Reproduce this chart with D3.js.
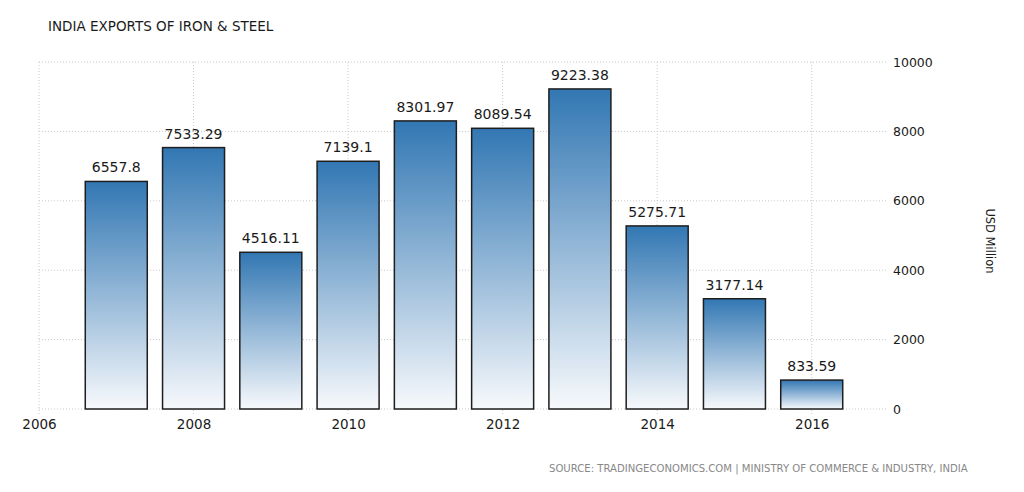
<!DOCTYPE html>
<html>
<head>
<meta charset="utf-8">
<script src="https://cdn.jsdelivr.net/npm/d3@7"></script>
<style>
  body { margin: 0; background: #fff; }
  text { font-family: "DejaVu Sans", sans-serif; }
</style>
</head>
<body>
<script>
// Données du graphique
const years = [2007, 2008, 2009, 2010, 2011, 2012, 2013, 2014, 2015, 2016];
const values = [6557.8, 7533.29, 4516.11, 7139.1, 8301.97, 8089.54, 9223.38, 5275.71, 3177.14, 833.59];
const labels = ["6557.8", "7533.29", "4516.11", "7139.1", "8301.97", "8089.54", "9223.38", "5275.71", "3177.14", "833.59"];
const xTicks = [2006, 2008, 2010, 2012, 2014, 2016];
const yTicks = [0, 2000, 4000, 6000, 8000, 10000];

const width = 1024;
const height = 492;
const plot = { left: 39, right: 889, top: 62, bottom: 409 };
const barW = 62;

const svg = d3.select("body").append("svg")
  .attr("width", width)
  .attr("height", height);

const grad = svg.append("defs").append("linearGradient")
  .attr("id", "barGrad")
  .attr("x1", 0).attr("y1", 0).attr("x2", 0).attr("y2", 1);
grad.append("stop").attr("offset", "0%").attr("stop-color", "#3277b3");
grad.append("stop").attr("offset", "100%").attr("stop-color", "#f7f9fc");

const x = d3.scaleLinear().domain([2006, 2017]).range([plot.left, plot.right]);
const y = d3.scaleLinear().domain([0, 10000]).range([plot.bottom, plot.top]);

// grille horizontale
svg.append("g")
  .selectAll("line")
  .data(yTicks)
  .enter().append("line")
  .attr("x1", plot.left)
  .attr("x2", 887)
  .attr("y1", d => y(d))
  .attr("y2", d => y(d))
  .attr("stroke", "#c8c8c8")
  .attr("stroke-dasharray", "1,2");

// grille verticale
svg.append("g")
  .selectAll("line")
  .data(xTicks)
  .enter().append("line")
  .attr("x1", d => x(d))
  .attr("x2", d => x(d))
  .attr("y1", plot.top)
  .attr("y2", plot.bottom + 5)
  .attr("stroke", "#c8c8c8")
  .attr("stroke-dasharray", "1,2");

// barres
svg.append("g")
  .selectAll("rect")
  .data(values)
  .enter().append("rect")
  .attr("x", (d, i) => x(years[i]) - barW / 2)
  .attr("y", d => y(d))
  .attr("width", barW)
  .attr("height", d => y(0) - y(d))
  .attr("fill", "url(#barGrad)")
  .attr("stroke", "#1e1e1e")
  .attr("stroke-width", 1.5);

// étiquettes de valeurs
svg.append("g")
  .selectAll("text")
  .data(values)
  .enter().append("text")
  .attr("x", (d, i) => x(years[i]))
  .attr("y", d => y(d) - 9)
  .attr("text-anchor", "middle")
  .style("font-size", "14px")
  .style("fill", "#1a1a1a")
  .text((d, i) => labels[i]);

// axe x
const xAxis = d3.axisBottom(x).tickValues(xTicks).tickFormat(d3.format("d")).tickSize(0).tickPadding(10);
const gx = svg.append("g")
  .attr("transform", `translate(0, ${plot.bottom})`)
  .call(xAxis);
gx.select(".domain").remove();
gx.selectAll("text").style("font-size", "13.5px").style("fill", "#1a1a1a");

// axe y à droite
const yAxis = d3.axisRight(y).tickValues(yTicks).tickFormat(d3.format("d")).tickSize(0).tickPadding(6);
const gy = svg.append("g")
  .attr("transform", "translate(887, 0)")
  .call(yAxis);
gy.select(".domain").remove();
gy.selectAll("text").style("font-size", "12.5px").style("fill", "#1a1a1a");

// titre
svg.append("text")
  .attr("x", 48)
  .attr("y", 31)
  .style("font-size", "13.5px")
  .style("fill", "#1a1a1a")
  .text("INDIA EXPORTS OF IRON & STEEL");

// libellé de l'axe y
svg.append("text")
  .attr("transform", "translate(986, 241) rotate(90)")
  .attr("text-anchor", "middle")
  .style("font-size", "11.5px")
  .style("fill", "#1a1a1a")
  .text("USD Million");

// source
svg.append("text")
  .attr("x", 549)
  .attr("y", 472)
  .style("font-size", "10.1px")
  .style("fill", "#888")
  .text("SOURCE: TRADINGECONOMICS.COM | MINISTRY OF COMMERCE & INDUSTRY, INDIA");
</script>
</body>
</html>
